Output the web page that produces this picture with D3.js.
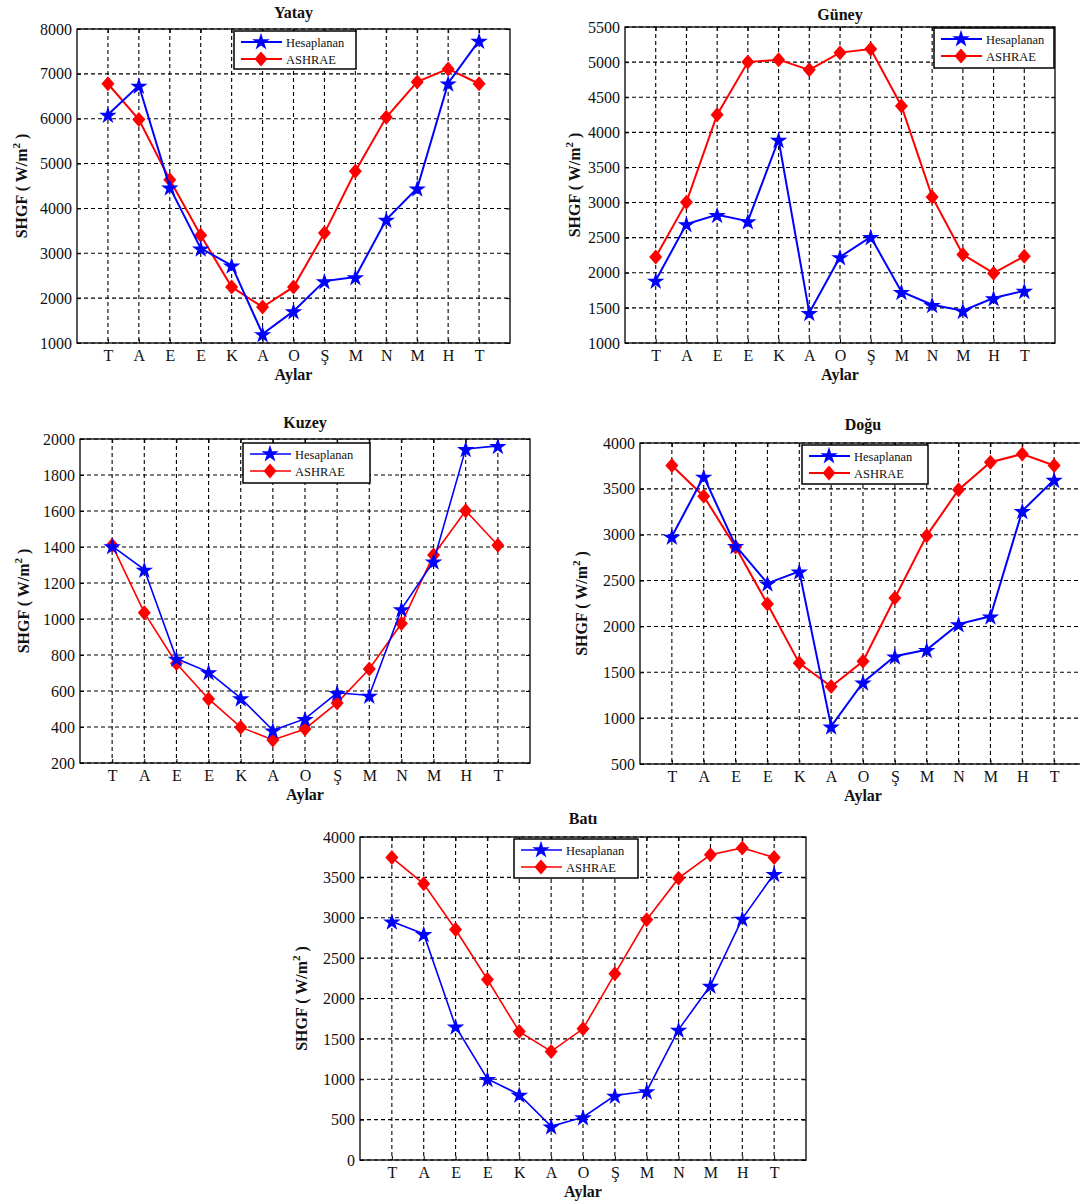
<!DOCTYPE html>
<html>
<head>
<meta charset="utf-8">
<script src="https://cdn.jsdelivr.net/npm/d3@7"></script>
<style>
  body { margin: 0; background: #fff; }
  svg { display: block; }
</style>
</head>
<body>
<svg id="chart" width="1080" height="1204"></svg>
<script>
// month initials on the x axis
const months = ["T", "A", "E", "E", "K", "A", "O", "Ş", "M", "N", "M", "H", "T"];

// Yatay
const yatayHesap = [6090, 6740, 4470, 3110, 2730, 1200, 1710, 2380, 2470, 3750, 4450, 6790, 7740];
const yatayAshrae = [6780, 5980, 4640, 3400, 2250, 1800, 2250, 3450, 4830, 6030, 6820, 7110, 6780];
const yatayTicks = [1000, 2000, 3000, 4000, 5000, 6000, 7000, 8000];

// Güney
const guneyHesap = [1890, 2695, 2825, 2735, 3895, 1430, 2225, 2510, 1730, 1545, 1460, 1640, 1745];
const guneyAshrae = [2225, 3005, 4250, 5000, 5035, 4890, 5135, 5185, 4375, 3080, 2260, 1995, 2235];
const guneyTicks = [1000, 1500, 2000, 2500, 3000, 3500, 4000, 4500, 5000, 5500];

// Kuzey
const kuzeyHesap = [1405, 1275, 780, 705, 560, 382, 445, 590, 575, 1055, 1320, 1945, 1962];
const kuzeyAshrae = [1410, 1035, 753, 556, 399, 328, 389, 534, 722, 975, 1356, 1601, 1410];
const kuzeyTicks = [200, 400, 600, 800, 1000, 1200, 1400, 1600, 1800, 2000];

// Doğu
const doguHesap = [2980, 3635, 2880, 2470, 2600, 910, 1390, 1675, 1745, 2025, 2110, 3260, 3600];
const doguAshrae = [3755, 3420, 2865, 2245, 1600, 1345, 1620, 2310, 2990, 3490, 3790, 3880, 3755];
const doguTicks = [500, 1000, 1500, 2000, 2500, 3000, 3500, 4000];

// Batı
const batiHesap = [2955, 2800, 1655, 1005, 810, 417, 530, 798, 852, 1615, 2160, 2990, 3545];
const batiAshrae = [3745, 3420, 2855, 2235, 1590, 1345, 1625, 2305, 2975, 3490, 3780, 3865, 3745];
const batiTicks = [0, 500, 1000, 1500, 2000, 2500, 3000, 3500, 4000];

const seriesNames = ["Hesaplanan", "ASHRAE"];
const blue = "#0000ff", red = "#ff0000";
const serif = "'Liberation Serif', 'DejaVu Serif', serif";

const svg = d3.select("#chart");

// panel layout (plot boxes in page pixels)
const panels = [
  { title: "Yatay", hesap: yatayHesap, ashrae: yatayAshrae, ticks: yatayTicks,
    left: 77, right: 510, top: 29, bottom: 343, titleY: 18, ylabX: 27, lw: 2,
    leg: [234, 31, 122, 38] },
  { title: "Güney", hesap: guneyHesap, ashrae: guneyAshrae, ticks: guneyTicks,
    left: 625, right: 1055, top: 27, bottom: 343, titleY: 20, ylabX: 580, lw: 2,
    leg: [934, 28, 120, 40] },
  { title: "Kuzey", hesap: kuzeyHesap, ashrae: kuzeyAshrae, ticks: kuzeyTicks,
    left: 80, right: 530, top: 439, bottom: 763, titleY: 428, ylabX: 29, lw: 1.6,
    leg: [243, 443, 127, 40] },
  { title: "Doğu", hesap: doguHesap, ashrae: doguAshrae, ticks: doguTicks,
    left: 640, right: 1086, top: 443, bottom: 764, titleY: 430, ylabX: 587, lw: 2,
    leg: [802, 445, 126, 39] },
  { title: "Batı", hesap: batiHesap, ashrae: batiAshrae, ticks: batiTicks,
    left: 360, right: 806, top: 837, bottom: 1160, titleY: 824, ylabX: 307, lw: 1.6,
    leg: [514, 839, 124, 39] }
];

const star = d3.symbol().type(d3.symbolStar).size(95);
const diamond = "M0,-7.5L6.5,0L0,7.5L-6.5,0Z";

function drawPanel(p) {
  const x = d3.scaleLinear().domain([0, 14]).range([p.left, p.right]);
  const y = d3.scaleLinear().domain(d3.extent(p.ticks)).range([p.bottom, p.top]);
  const g = svg.append("g");
  const idx = d3.range(1, 14);

  // dashed grid
  g.selectAll(".vg").data(idx).join("line")
    .attr("x1", d => x(d)).attr("x2", d => x(d))
    .attr("y1", p.top).attr("y2", p.bottom)
    .attr("stroke", "#000").attr("stroke-width", 1.1).attr("stroke-dasharray", "4,3");
  g.selectAll(".hg").data(p.ticks).join("line")
    .attr("x1", p.left).attr("x2", p.right)
    .attr("y1", d => y(d)).attr("y2", d => y(d))
    .attr("stroke", "#000").attr("stroke-width", 1.1).attr("stroke-dasharray", "4,3");

  // axes, ticks pointing inward like matlab
  const ax = (axis, tr, labels) => {
    const a = g.append("g").attr("transform", tr).call(axis);
    a.attr("font-family", serif).attr("font-size", 16);
    a.select(".domain").remove();
    a.selectAll("line").attr("stroke", "#000");
    a.selectAll("text").attr("fill", "#111");
    if (!labels) a.selectAll("text").remove();
    return a;
  };
  ax(d3.axisLeft(y).tickValues(p.ticks).tickFormat(d3.format("d")).tickSizeInner(-4).tickSizeOuter(0).tickPadding(5),
    `translate(${p.left},0)`, true);
  ax(d3.axisRight(y).tickValues(p.ticks).tickSizeInner(-4).tickSizeOuter(0),
    `translate(${p.right},0)`, false);
  ax(d3.axisBottom(x).tickValues(idx).tickFormat(i => months[i - 1]).tickSizeInner(-4).tickSizeOuter(0).tickPadding(7),
    `translate(0,${p.bottom})`, true);
  ax(d3.axisTop(x).tickValues(idx).tickSizeInner(-4).tickSizeOuter(0),
    `translate(0,${p.top})`, false);

  g.append("rect")
    .attr("x", p.left).attr("y", p.top)
    .attr("width", p.right - p.left).attr("height", p.bottom - p.top)
    .attr("fill", "none").attr("stroke", "#000").attr("stroke-width", 1.3);

  const line = d3.line().x((d, i) => x(i + 1)).y(d => y(d));

  // ASHRAE first, Hesaplanan on top
  g.append("path").datum(p.ashrae).attr("d", line)
    .attr("fill", "none").attr("stroke", red).attr("stroke-width", p.lw);
  g.selectAll(".dm").data(p.ashrae).join("path")
    .attr("d", diamond)
    .attr("transform", (d, i) => `translate(${x(i + 1)},${y(d)})`)
    .attr("fill", red);

  g.append("path").datum(p.hesap).attr("d", line)
    .attr("fill", "none").attr("stroke", blue).attr("stroke-width", p.lw);
  g.selectAll(".st").data(p.hesap).join("path")
    .attr("d", star)
    .attr("transform", (d, i) => `translate(${x(i + 1)},${y(d) + 1})`)
    .attr("fill", blue);

  // title and axis labels
  const cx = (p.left + p.right) / 2;
  g.append("text").attr("x", cx).attr("y", p.titleY)
    .attr("text-anchor", "middle").attr("font-family", serif)
    .attr("font-size", 16).attr("font-weight", "bold").attr("fill", "#111")
    .text(p.title);
  g.append("text").attr("x", cx).attr("y", p.bottom + 37)
    .attr("text-anchor", "middle").attr("font-family", serif)
    .attr("font-size", 16).attr("font-weight", "bold").attr("fill", "#111")
    .text("Aylar");
  const yl = g.append("text")
    .attr("transform", `translate(${p.ylabX},${(p.top + p.bottom) / 2}) rotate(-90)`)
    .attr("text-anchor", "middle").attr("font-family", serif)
    .attr("font-size", 16).attr("font-weight", "bold").attr("fill", "#111");
  yl.append("tspan").text("SHGF ( W/m");
  yl.append("tspan").attr("dy", -7).attr("font-size", 11).text("2");
  yl.append("tspan").attr("dy", 7).text(" )");

  // legend
  const [lx, ly, lw, lh] = p.leg;
  const lg = g.append("g").attr("transform", `translate(${lx},${ly})`);
  lg.append("rect").attr("width", lw).attr("height", lh)
    .attr("fill", "#fff").attr("stroke", "#000").attr("stroke-width", 1.5);
  const rows = [
    { name: seriesNames[0], color: blue, mark: star() },
    { name: seriesNames[1], color: red, mark: diamond }
  ];
  rows.forEach((r, i) => {
    const ry = 11 + i * 17;
    lg.append("line").attr("x1", 7).attr("x2", 48).attr("y1", ry).attr("y2", ry)
      .attr("stroke", r.color).attr("stroke-width", p.lw);
    lg.append("path").attr("d", r.mark).attr("transform", `translate(27,${ry})`).attr("fill", r.color);
    lg.append("text").attr("x", 52).attr("y", ry + 4.5)
      .attr("font-family", serif).attr("font-size", 12.5).attr("fill", "#111")
      .text(r.name);
  });
}

panels.forEach(drawPanel);
</script>
</body>
</html>
